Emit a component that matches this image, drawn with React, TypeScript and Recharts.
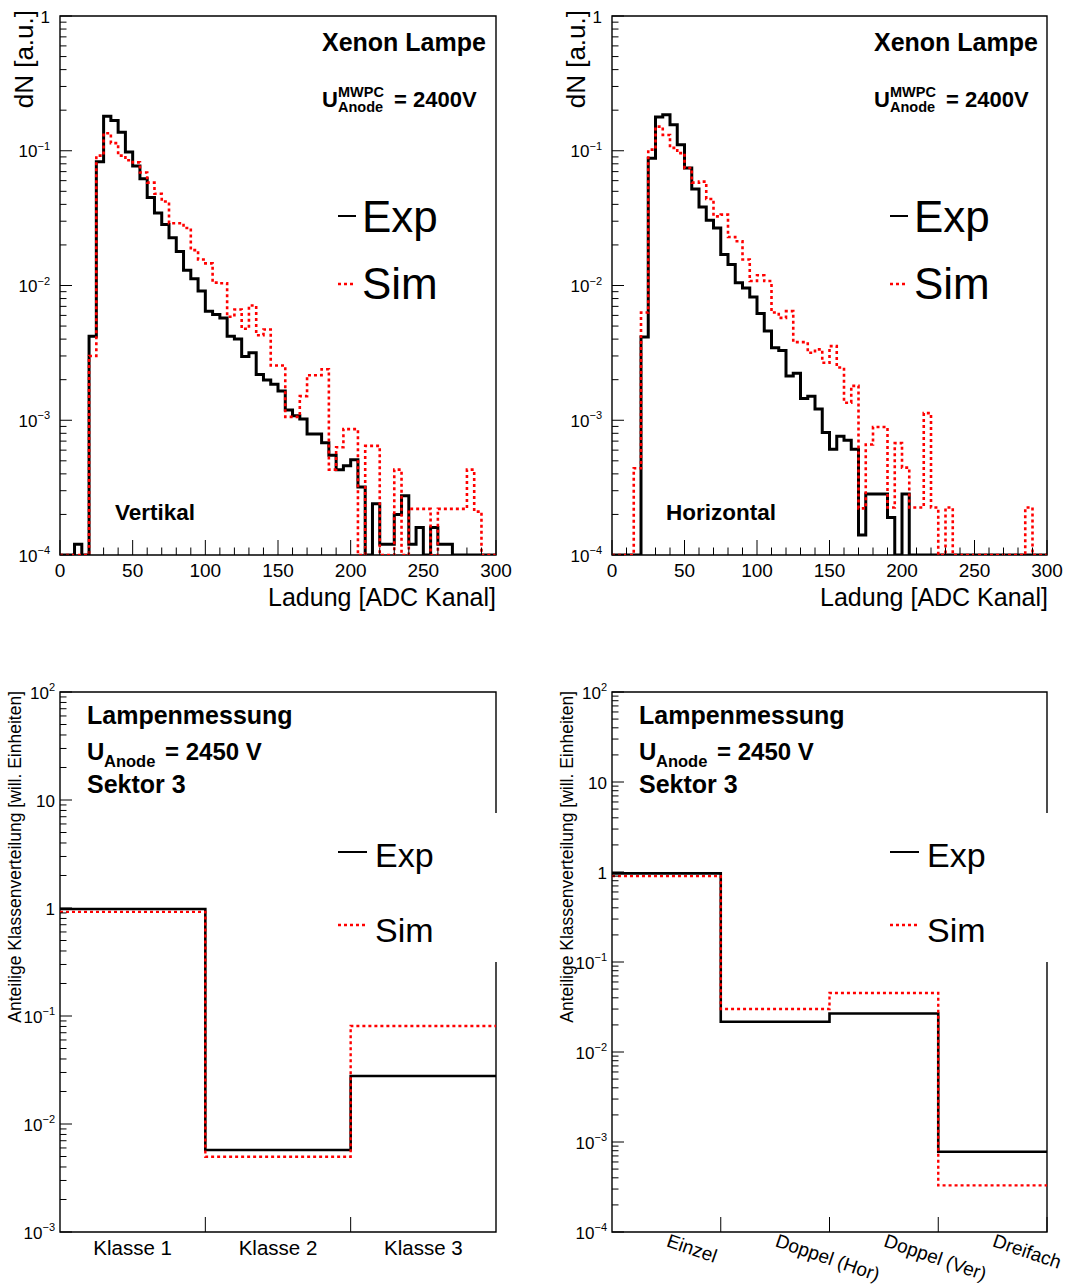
import React from "react";
import { LineChart, Line, XAxis, YAxis, ReferenceArea } from "recharts";

const FONT = "'Liberation Sans', Arial, Helvetica, sans-serif";

// ADC charge spectra: 60 bins of 5 channels, 0..300
const BIN_WIDTH = 5;
const ADC_MAX = 300;
const ADC_TICKS = [0, 10, 20, 30, 40, 50, 60, 70, 80, 90, 100, 110, 120, 130, 140, 150, 160, 170, 180, 190, 200, 210, 220, 230, 240, 250, 260, 270, 280, 290, 300];

const vertikalExp = [
  0, 0, 1.2e-4, 0, 4.2e-3, 0.083, 0.18, 0.168, 0.137, 0.098,
  0.077, 0.062, 0.045, 0.0345, 0.0283, 0.0226, 0.0179, 0.013, 0.0112, 0.0091,
  0.00645, 0.0061, 0.00575, 0.0042, 0.004, 0.00297, 0.00317, 0.00219, 0.00199, 0.00185,
  0.00165, 0.00119, 0.00108, 0.00102, 7.9e-4, 7.9e-4, 6.8e-4, 5.5e-4, 4.3e-4, 4.6e-4,
  5.1e-4, 3.2e-4, 0, 2.4e-4, 1.2e-4, 1.2e-4, 2.0e-4, 2.75e-4, 1.2e-4, 1.6e-4,
  0, 1.6e-4, 1.2e-4, 1.2e-4, 0, 0, 0, 0, 0, 0,
];
const vertikalSim = [
  0, 0, 0, 0, 3.0e-3, 0.092, 0.135, 0.114, 0.092, 0.085,
  0.082, 0.069, 0.058, 0.048, 0.042, 0.029, 0.029, 0.0267, 0.0183, 0.0156,
  0.0146, 0.0105, 0.0104, 0.00586, 0.00664, 0.00477, 0.0071, 0.00427, 0.00472, 0.00255,
  0.00255, 0.00106, 0.00106, 0.00151, 0.00216, 0.00216, 0.00239, 4.3e-4, 6.3e-4, 8.6e-4,
  8.6e-4, 0, 6.45e-4, 6.45e-4, 0, 0, 4.3e-4, 0, 2.2e-4, 2.2e-4,
  2.2e-4, 0, 2.2e-4, 2.2e-4, 2.2e-4, 2.2e-4, 4.3e-4, 2.1e-4, 0, 0,
];
const horizontalExp = [
  0, 0, 0, 0, 4.15e-3, 0.088, 0.178, 0.185, 0.156, 0.111,
  0.0745, 0.052, 0.0383, 0.0305, 0.0267, 0.017, 0.0143, 0.0105, 0.0096, 0.0082,
  0.0062, 0.0046, 0.00345, 0.0033, 0.00213, 0.00223, 0.00145, 0.00151, 0.00121, 8.1e-4,
  6.1e-4, 7.6e-4, 7.1e-4, 6.1e-4, 1.41e-4, 2.83e-4, 2.83e-4, 2.83e-4, 1.9e-4, 0,
  2.83e-4, 0, 0, 0, 0, 0, 0, 0, 0, 0,
  0, 0, 0, 0, 0, 0, 0, 0, 0, 0,
];
const horizontalSim = [
  0, 0, 0, 4.4e-4, 6.3e-3, 0.102, 0.151, 0.131, 0.105, 0.096,
  0.0745, 0.058, 0.059, 0.0439, 0.0326, 0.0336, 0.0229, 0.0213, 0.0156, 0.0108,
  0.0119, 0.0108, 0.0063, 0.00575, 0.00645, 0.0038, 0.0038, 0.00317, 0.00336, 0.00267,
  0.00355, 0.00246, 0.00135, 0.0018, 2.22e-4, 6.6e-4, 8.9e-4, 8.9e-4, 2.25e-4, 6.76e-4,
  4.45e-4, 2.25e-4, 2.25e-4, 1.13e-3, 2.25e-4, 0, 2.25e-4, 0, 0, 0,
  0, 0, 0, 0, 0, 0, 0, 2.25e-4, 0, 0,
];

// cluster class distributions
const klassen = ["Klasse 1", "Klasse 2", "Klasse 3"];
const klassenExp = [0.98, 0.00575, 0.0278];
const klassenSim = [0.92, 0.00497, 0.0807];

const clusterTypen = ["Einzel", "Doppel (Hor)", "Doppel (Ver)", "Dreifach"];
const clusterExp = [0.966, 0.0217, 0.0268, 7.8e-4];
const clusterSim = [0.9, 0.03, 0.0453, 3.3e-4];

// empty bins are drawn on the bottom of the frame, like ROOT does
const onFloor = (v: number, floor: number) => (v > 0 ? v : floor);

function histRows(exp: number[], sim: number[], width: number, floor: number) {
  const rows = exp.map((v, i) => ({ x: i * width, exp: onFloor(v, floor), sim: onFloor(sim[i], floor) }));
  const last = exp.length - 1;
  rows.push({ x: exp.length * width, exp: onFloor(exp[last], floor), sim: onFloor(sim[last], floor) });
  return rows;
}

function logTicks(lo: number, hi: number) {
  const out: number[] = [];
  for (let e = lo; e < hi; e++) {
    for (let m = 1; m < 10; m++) out.push(m * Math.pow(10, e));
  }
  out.push(Math.pow(10, hi));
  return out;
}

const makeYTick = (axisX: number, gap: number, fs: number) => (p: any) => {
  const v = p.payload.value;
  const y = p.y;
  const lg = Math.log10(v);
  const e = Math.round(lg);
  const major = Math.abs(lg - e) < 1e-6;
  let base = "10";
  let sup: string | null = null;
  if (e === 0) base = "1";
  else if (e !== 1) sup = e < 0 ? "\u2212" + -e : String(e);
  return (
    <g>
      <line x1={axisX} x2={axisX + (major ? 12 : 6.5)} y1={y} y2={y} stroke="#000" strokeWidth={1} />
      {major && (
        <text x={axisX - gap} y={y + 6.5} textAnchor="end" fontSize={fs} fontFamily={FONT} fill="#000">
          {base}
          {sup && (
            <tspan dy={-7.5} fontSize={11}>
              {sup}
            </tspan>
          )}
        </text>
      )}
    </g>
  );
};

const makeAdcTick = (bottomY: number) => (p: any) => {
  const x = p.x;
  const v = p.payload.value;
  const major = v % 50 === 0;
  return (
    <g>
      <line x1={x} x2={x} y1={bottomY} y2={bottomY - (major ? 15 : 7.5)} stroke="#000" strokeWidth={1} />
      {major && (
        <text x={x} y={bottomY + 22} textAnchor="middle" fontSize={19} fontFamily={FONT} fill="#000">
          {v}
        </text>
      )}
    </g>
  );
};

const makeClassTick = (bottomY: number, labels: string[], rotated: boolean) => (p: any) => {
  const x = p.x;
  const v = p.payload.value;
  if (Number.isInteger(v)) {
    return <line x1={x} x2={x} y1={bottomY} y2={bottomY - 15} stroke="#000" strokeWidth={1} />;
  }
  const label = labels[Math.floor(v)];
  if (rotated) {
    const ax = x - 1;
    const ay = bottomY + 14;
    return (
      <text x={ax} y={ay} transform={`rotate(19, ${ax}, ${ay})`} textAnchor="start" fontSize={19} fontFamily={FONT} fill="#000">
        {label}
      </text>
    );
  }
  return (
    <text x={x} y={bottomY + 23} textAnchor="middle" fontSize={20.5} fontFamily={FONT} fill="#000">
      {label}
    </text>
  );
};

function AdcPanel({ exp, sim, left }: { exp: number[]; sim: number[]; left: number }) {
  const rows = histRows(exp, sim, BIN_WIDTH, 1e-4);
  const width = left === 0 ? 520 : 516;
  const right = left === 0 ? 24 : 21;
  return (
    <div style={{ position: "absolute", left, top: 0 }}>
      <LineChart width={width} height={620} data={rows} margin={{ top: 16, right, bottom: 0, left: 0 }} style={{ overflow: "visible" }}>
        <XAxis
          type="number"
          dataKey="x"
          domain={[0, ADC_MAX]}
          ticks={ADC_TICKS}
          interval={0}
          height={65}
          axisLine={false}
          tickLine={false}
          tickSize={0}
          tickMargin={0}
          tick={makeAdcTick(555)}
          allowDataOverflow
        />
        <YAxis
          scale="log"
          domain={[1e-4, 1]}
          ticks={logTicks(-4, 0)}
          interval={0}
          width={60}
          axisLine={false}
          tickLine={false}
          tickSize={0}
          tickMargin={0}
          tick={makeYTick(60, 10, 17)}
          allowDataOverflow
        />
        <ReferenceArea x1={0} x2={ADC_MAX} y1={1e-4} y2={1} fill="none" stroke="#000" strokeWidth={1.4} ifOverflow="visible" />
        <Line dataKey="exp" type="stepAfter" stroke="#000" strokeWidth={3} dot={false} isAnimationActive={false} />
        <Line dataKey="sim" type="stepAfter" stroke="#ff0000" strokeWidth={2.6} strokeDasharray="3 3" dot={false} isAnimationActive={false} />
      </LineChart>
    </div>
  );
}

function ClassPanel({
  labels,
  exp,
  sim,
  left,
  lo,
  rotated,
}: {
  labels: string[];
  exp: number[];
  sim: number[];
  left: number;
  lo: number;
  rotated: boolean;
}) {
  const yMin = Math.pow(10, lo);
  const rows = histRows(exp, sim, 1, yMin);
  const n = labels.length;
  const ticks: number[] = [];
  for (let i = 0; i < n; i++) {
    ticks.push(i + 0.5);
    if (i + 1 < n || rotated) ticks.push(i + 1);
  }
  const width = left === 0 ? 520 : 516;
  const right = left === 0 ? 24 : 21;
  return (
    <div style={{ position: "absolute", left, top: 676 }}>
      <LineChart width={width} height={611} data={rows} margin={{ top: 16, right, bottom: 0, left: 0 }} style={{ overflow: "visible" }}>
        <XAxis
          type="number"
          dataKey="x"
          domain={[0, n]}
          ticks={ticks}
          interval={0}
          height={55}
          axisLine={false}
          tickLine={false}
          tickSize={0}
          tickMargin={0}
          tick={makeClassTick(556, labels, rotated)}
          allowDataOverflow
        />
        <YAxis
          scale="log"
          domain={[yMin, 100]}
          ticks={logTicks(lo, 2)}
          interval={0}
          width={60}
          axisLine={false}
          tickLine={false}
          tickSize={0}
          tickMargin={0}
          tick={makeYTick(60, 5, 17)}
          allowDataOverflow
        />
        <ReferenceArea x1={0} x2={n} y1={yMin} y2={100} fill="none" stroke="#000" strokeWidth={1.4} ifOverflow="visible" />
        <Line dataKey="exp" type="stepAfter" stroke="#000" strokeWidth={2.6} dot={false} isAnimationActive={false} />
        <Line dataKey="sim" type="stepAfter" stroke="#ff0000" strokeWidth={2.4} strokeDasharray="3 3" dot={false} isAnimationActive={false} />
      </LineChart>
    </div>
  );
}

function TopNotes({ dx, side }: { dx: number; side: string }) {
  const t = { fontFamily: FONT, fill: "#000" } as const;
  return (
    <g>
      <text x={322 + dx} y={51} fontSize={25} fontWeight="bold" {...t}>
        Xenon Lampe
      </text>
      <text x={322 + dx} y={107} fontSize={22} fontWeight="bold" {...t}>
        U
      </text>
      <text x={338 + dx} y={97} fontSize={14.5} fontWeight="bold" {...t}>
        MWPC
      </text>
      <text x={338 + dx} y={112} fontSize={14.5} fontWeight="bold" {...t}>
        Anode
      </text>
      <text x={394 + dx} y={107} fontSize={22} fontWeight="bold" {...t}>
        = 2400V
      </text>
      <text x={(side === "Vertikal" ? 115 : 114) + dx} y={520} fontSize={22.5} fontWeight="bold" {...t}>
        {side}
      </text>
      <line x1={338 + dx} x2={356 + dx} y1={216} y2={216} stroke="#000" strokeWidth={2} />
      <text x={362 + dx} y={232} fontSize={44} {...t}>
        Exp
      </text>
      <line x1={338 + dx} x2={356 + dx} y1={284} y2={284} stroke="#ff0000" strokeWidth={2.5} strokeDasharray="3 3" />
      <text x={362 + dx} y={299} fontSize={44} {...t}>
        Sim
      </text>
      <text x={496 + dx} y={606} fontSize={25} textAnchor="end" {...t}>
        Ladung [ADC Kanal]
      </text>
      <text transform={`translate(${33 + dx}, 10) rotate(-90)`} fontSize={26} textAnchor="end" {...t}>
        dN [a.u.]
      </text>
    </g>
  );
}

function BottomNotes({ dx }: { dx: number }) {
  const t = { fontFamily: FONT, fill: "#000" } as const;
  return (
    <g>
      <text x={87 + dx} y={724} fontSize={25} fontWeight="bold" {...t}>
        Lampenmessung
      </text>
      <text x={87 + dx} y={760} fontSize={24} fontWeight="bold" {...t}>
        U
      </text>
      <text x={104 + dx} y={767} fontSize={16.5} fontWeight="bold" {...t}>
        Anode
      </text>
      <text x={165 + dx} y={760} fontSize={24} fontWeight="bold" {...t}>
        = 2450 V
      </text>
      <text x={87 + dx} y={793} fontSize={25} fontWeight="bold" {...t}>
        Sektor 3
      </text>
      <rect x={330 + dx} y={813} width={170} height={149} fill="#fff" />
      <line x1={338 + dx} x2={367 + dx} y1={852} y2={852} stroke="#000" strokeWidth={2} />
      <text x={375 + dx} y={867} fontSize={34} {...t}>
        Exp
      </text>
      <line x1={338 + dx} x2={367 + dx} y1={925} y2={925} stroke="#ff0000" strokeWidth={2.5} strokeDasharray="3 3" />
      <text x={375 + dx} y={942} fontSize={34} {...t}>
        Sim
      </text>
      <text transform={`translate(${21 + dx}, 691) rotate(-90)`} fontSize={17.5} textAnchor="end" {...t}>
        Anteilige Klassenverteilung [will. Einheiten]
      </text>
    </g>
  );
}

export default function App() {
  return (
    <div style={{ position: "absolute", left: 0, top: 0, width: 1068, height: 1287, background: "#fff", overflow: "hidden" }}>
      <AdcPanel exp={vertikalExp} sim={vertikalSim} left={0} />
      <AdcPanel exp={horizontalExp} sim={horizontalSim} left={552} />
      <ClassPanel labels={klassen} exp={klassenExp} sim={klassenSim} left={0} lo={-3} rotated={false} />
      <ClassPanel labels={clusterTypen} exp={clusterExp} sim={clusterSim} left={552} lo={-4} rotated={true} />
      <svg
        width={1068}
        height={1287}
        style={{ position: "absolute", left: 0, top: 0, pointerEvents: "none", overflow: "visible" }}
      >
        <TopNotes dx={0} side="Vertikal" />
        <TopNotes dx={552} side="Horizontal" />
        <BottomNotes dx={0} />
        <BottomNotes dx={552} />
      </svg>
    </div>
  );
}
